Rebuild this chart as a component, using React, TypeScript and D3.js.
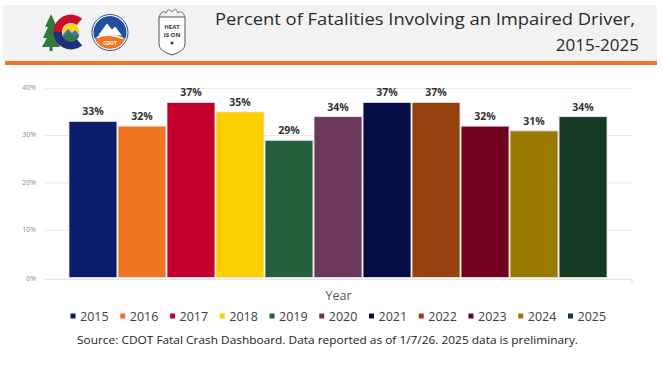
import React from 'react';
import * as d3 from 'd3';

const years = ['2015', '2016', '2017', '2018', '2019', '2020', '2021', '2022', '2023', '2024', '2025'];
const values = [33, 32, 37, 35, 29, 34, 37, 37, 32, 31, 34];
const barColors = ['#0a1c6b', '#ee7623', '#c4002f', '#fcd000', '#245f3b', '#6b385c', '#060c46', '#97410e', '#74001f', '#9a7b00', '#173a24'];
const yTicks = [0, 10, 20, 30, 40];
const titleLine1 = 'Percent of Fatalities Involving an Impaired Driver,';
const titleLine2 = '2015-2025';
const axisTitle = 'Year';
const sourceText = 'Source: CDOT Fatal Crash Dashboard. Data reported as of 1/7/26. 2025 data is preliminary.';

const FONT = "'Open Sans', 'DejaVu Sans', sans-serif";

function Logos() {
  const c = d3.arc();
  const cUpper = c({ innerRadius: 9, outerRadius: 17.5, startAngle: Math.PI * 0.22, endAngle: -Math.PI * 0.5 }) || '';
  const cLower = c({ innerRadius: 9, outerRadius: 17.5, startAngle: -Math.PI * 0.5, endAngle: -Math.PI * 1.22 }) || '';
  const cdotTop = c({ innerRadius: 0, outerRadius: 16.5, startAngle: -Math.PI * 0.62, endAngle: Math.PI * 0.62 }) || '';
  const cdotBot = c({ innerRadius: 0, outerRadius: 16.5, startAngle: Math.PI * 0.62, endAngle: Math.PI * 1.38 }) || '';
  return (
    <g>
      {/* tree */}
      <g fill="#2f7a3c">
        <path d="M51,14 L45,27 L48,27 L43,38 L47,38 L42,47 L60,47 L56,38 L59,38 L55,27 L57,27 Z" />
        <rect x={49.5} y={46} width={3} height={5} fill="#2f7a3c" />
      </g>
      {/* Colorado C */}
      <g transform="translate(71,32)">
        <path d={cUpper} fill="#c8102e" />
        <path d={cLower} fill="#1b2f7a" />
        <circle r={8.5} fill="#fcd116" />
        <path d="M-8.3,3 L-3,-3 L1,1 L4,-2 L8.3,3 A8.5,8.5 0 0 1 -8.3,3 Z" fill="#3a75c4" />
        <path d="M-7.5,5 L-2,0 L3,5 L6,3 L7.6,4.5 A8.5,8.5 0 0 1 -7.5,5 Z" fill="#2f7a3c" />
      </g>
      {/* CDOT circle */}
      <g transform="translate(110,32.5)">
        <circle r={18} fill="#ffffff" stroke="#1f4f9e" strokeWidth={1} />
        <path d={cdotTop} fill="#1f4f9e" />
        <path d={cdotBot} fill="#ee7623" />
        <path d="M-12,3 L-3,-9 L2,-3 L5,-6 L12,3 Z" fill="#ffffff" />
        <path d="M-13,5 Q-3,0 13,6" stroke="#ffffff" strokeWidth={1.5} fill="none" />
        <text x={0} y={12} textAnchor="middle" fontFamily={FONT} fontSize={5} fontWeight="bold" fill="#ffffff">CDOT</text>
      </g>
      {/* HEAT IS ON badge */}
      <g transform="translate(172,31)">
        <path d="M-13,-14 Q-10,-22 -6,-18 Q-4,-24 0,-19 Q4,-25 6,-18 Q10,-22 13,-14" fill="none" stroke="#666" strokeWidth={0.9} />
        <path d="M-13,-14 L13,-14 L13,13 Q13,20 0,24 Q-13,20 -13,13 Z" fill="#ffffff" stroke="#555" strokeWidth={1} />
        <text x={0} y={-2} textAnchor="middle" fontFamily={FONT} fontSize={6} fontWeight="bold" fill="#333">HEAT</text>
        <text x={0} y={6} textAnchor="middle" fontFamily={FONT} fontSize={6} fontWeight="bold" fill="#333">IS ON</text>
        <circle cx={0} cy={12} r={1.5} fill="#333" />
      </g>
    </g>
  );
}

export default function App() {
  const W = 663;
  const H = 376;
  const plotLeft = 45;
  const plotRight = 632;

  const x = d3.scaleBand<string>().domain(years).range([69, 607]).paddingInner(0.022).paddingOuter(0);
  const y = d3.scaleLinear().domain([0, 40]).range([277.5, 88.3]);
  const legendX = d3.scaleLinear().domain([0, years.length - 1]).range([70.5, 568]);

  return (
    <svg width={W} height={H} style={{ position: 'absolute', left: 0, top: 0, background: '#ffffff' }}>
      {/* header */}
      <rect x={3} y={5} width={654} height={56} fill="#f2f2f2" />
      <rect x={5} y={61} width={652} height={4} fill="#ee7623" />
      <Logos />
      <text x={635} y={25} textAnchor="end" fontFamily={FONT} fontSize={17} fill="#2a2a2a" textLength={420} lengthAdjust="spacingAndGlyphs">{titleLine1}</text>
      <text x={639} y={51} textAnchor="end" fontFamily={FONT} fontSize={17} fill="#2a2a2a">{titleLine2}</text>

      {/* gridlines */}
      {yTicks.filter(t => t > 0).map(t => (
        <line key={t} x1={plotLeft} x2={plotRight} y1={y(t)} y2={y(t)} stroke="#e8e8e8" strokeWidth={1} />
      ))}
      <line x1={plotLeft} x2={plotRight} y1={y(0) + 1.8} y2={y(0) + 1.8} stroke="#dcdcdc" strokeWidth={1} />
      <line x1={plotRight} x2={plotRight} y1={y(0) + 1.8} y2={y(0) + 5.5} stroke="#dcdcdc" strokeWidth={1} />
      {yTicks.map(t => (
        <text key={t} x={36} y={y(t) + (t === 0 ? 1.8 : 0)} textAnchor="end" dominantBaseline="middle" fontFamily={FONT} fontSize={7} fill="#8c8c8c">{t}%</text>
      ))}

      {/* bars */}
      {years.map((yr, i) => (
        <g key={yr}>
          <rect x={x(yr)} y={y(values[i])} width={x.bandwidth()} height={y(0) - y(values[i])} fill={barColors[i]} stroke="#e4e4e4" strokeWidth={0.8} />
          <text x={(x(yr) || 0) + x.bandwidth() / 2} y={y(values[i]) - 6} textAnchor="middle" fontFamily={FONT} fontSize={10.5} fontWeight="bold" fill="#333333">{values[i]}%</text>
        </g>
      ))}

      {/* axis title */}
      <text x={(plotLeft + plotRight) / 2} y={299.5} textAnchor="middle" fontFamily={FONT} fontSize={12.5} fill="#555555">{axisTitle}</text>

      {/* legend */}
      {years.map((yr, i) => (
        <g key={yr}>
          <rect x={legendX(i)} y={313.5} width={5} height={5} fill={barColors[i]} />
          <text x={legendX(i) + 9.5} y={320.5} fontFamily={FONT} fontSize={12.5} fill="#404040">{yr}</text>
        </g>
      ))}

      {/* source */}
      <text x={77} y={343.5} fontFamily={FONT} fontSize={11} fill="#222222" textLength={501} lengthAdjust="spacingAndGlyphs">{sourceText}</text>
    </svg>
  );
}
